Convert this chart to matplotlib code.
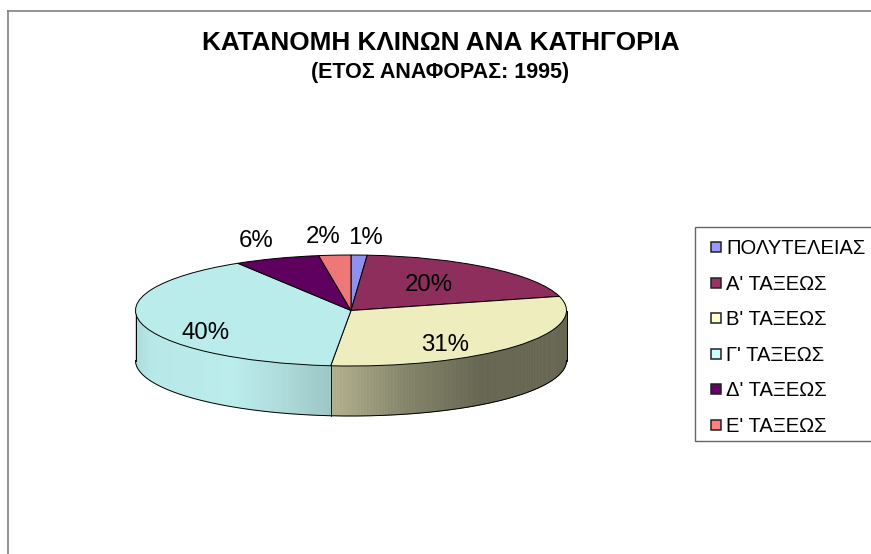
"""Plot the distribution of hotel beds per category as a tilted pie."""

import numpy
from matplotlib import pyplot
from matplotlib.collections import PolyCollection
from matplotlib.colors import to_rgb
from matplotlib.lines import Line2D
from matplotlib.patches import Rectangle

title = 'ΚΑΤΑΝΟΜΗ ΚΛΙΝΩΝ ΑΝΑ ΚΑΤΗΓΟΡΙΑ'
subtitle = '(ΕΤΟΣ ΑΝΑΦΟΡΑΣ: 1995)'
categories = ['ΠΟΛΥΤΕΛΕΙΑΣ', "Α' ΤΑΞΕΩΣ", "Β' ΤΑΞΕΩΣ",
              "Γ' ΤΑΞΕΩΣ", "Δ' ΤΑΞΕΩΣ", "Ε' ΤΑΞΕΩΣ"]
shares = [1.2, 19.7, 30.6, 39.7, 6.4, 2.4]

top_colors = ['#9090EE', '#8E2E5D', '#EEEDBE', '#BBECEC', '#5F005F', '#EE7777']
legend_colors = ['#9999FF', '#993366', '#FFFFCC', '#CCFFFF', '#660066', '#FF8080']

# Pixel geometry of the pie in the 871x554 picture.
width, height = 871, 554
cx, cy, rx, ry = 351.0, 310.5, 215.5, 55.5
depth = 50.0 / ry

pyplot.rc('font', family='Liberation Sans')

fig = pyplot.figure(figsize=(width / 100, height / 100), dpi=100)
ax = fig.add_axes([0, 0, 1, 1])

wedges, _ = ax.pie(shares, colors=top_colors, startangle=90, counterclock=False,
                   wedgeprops=dict(edgecolor='black', linewidth=0.7, zorder=3))
ax.set_aspect('auto')
ax.set_xlim(-cx / rx, (width - cx) / rx)
ax.set_ylim((cy - height) / ry, cy / ry)
ax.axis('off')

# Shading of the side wall, as (x, brightness) stops for each visible slice.
shade_stops = {
    2: ([-0.08, 0.25, 0.60, 1.0], [0.74, 0.56, 0.43, 0.43]),
    3: ([-1.0, -0.93, -0.55, -0.30, -0.08], [0.93, 0.98, 1.0, 0.92, 0.83]),
}
edges = numpy.radians(numpy.cumsum([0.0] + shares) * 3.6)
quads, quad_colors = [], []
for i, (start, end) in enumerate(zip(edges[:-1], edges[1:])):
    start, end = max(start, numpy.pi / 2), min(end, 3 * numpy.pi / 2)
    if end <= start:
        continue
    angles = numpy.linspace(start, end, 120)
    x, y = numpy.sin(angles), numpy.cos(angles)
    shade = numpy.interp(0.5 * (x[:-1] + x[1:]), *shade_stops[i])
    base = numpy.array(to_rgb(top_colors[i]))
    for j in range(len(angles) - 1):
        quads.append([(x[j], y[j]), (x[j + 1], y[j + 1]),
                      (x[j + 1], y[j + 1] - depth), (x[j], y[j] - depth)])
        quad_colors.append(base * shade[j])
ax.add_collection(PolyCollection(quads, facecolors=quad_colors,
                                 edgecolors=quad_colors, linewidths=0.5,
                                 zorder=1))

# Outline of the side wall.
front = numpy.linspace(numpy.pi / 2, 3 * numpy.pi / 2, 400)
ax.plot(numpy.sin(front), numpy.cos(front) - depth,
        color='black', linewidth=0.7, zorder=2)
seam = numpy.sin(edges[3])
seam_y = numpy.cos(edges[3])
ax.plot([seam, seam], [seam_y, seam_y - depth], color='black', linewidth=0.6,
        zorder=2)
for side in (-1, 1):
    ax.plot([side, side], [0, -depth], color='black', linewidth=0.7, zorder=2)

# Percent labels, placed by hand as in the original.
label_pos = [(0.065, 1.31), (0.36, 0.455), (0.436, -0.62),
             (-0.673, -0.405), (-0.44, 1.26), (-0.13, 1.33)]
for share, (lx, ly) in zip(shares, label_pos):
    ax.text(lx, ly, f'{share:.0f}%', fontsize=17.3, ha='center', va='center',
            zorder=4)

fig.text(441 / width, 1 - 42.5 / height, title, fontsize=18.8,
         fontweight='bold', ha='center', va='center')
fig.text(440 / width, 1 - 72.5 / height, subtitle, fontsize=15.5,
         fontweight='bold', ha='center', va='center')

# Legend box runs off the right of the picture, so draw it on its own.
fig.add_artist(Rectangle((695 / width, 1 - 441 / height), 200 / width,
                         214 / height, transform=fig.transFigure,
                         facecolor='white', edgecolor='#666666', linewidth=1.0))
handles = [Line2D([], [], linestyle='none', marker='s', markersize=6.5,
                  markerfacecolor=c, markeredgecolor='#222222',
                  markeredgewidth=1.1)
           for c in legend_colors]
legend = fig.legend(handles, categories, loc='upper left',
                    bbox_to_anchor=(695 / width, 1 - 225 / height),
                    fontsize=14.5, frameon=False, borderaxespad=0,
                    borderpad=0.7, labelspacing=0.82, handlelength=0.7,
                    handletextpad=0.15)
legend.set_zorder(5)

# Chart frame; it runs off the right and bottom of the picture.
for xs, ys in (([8, width], [11, 11]), ([8, 8], [11, height])):
    fig.add_artist(Line2D([v / width for v in xs], [1 - v / height for v in ys],
                          color='#808080', linewidth=1.2))

fig.savefig('out.png', dpi=100)
